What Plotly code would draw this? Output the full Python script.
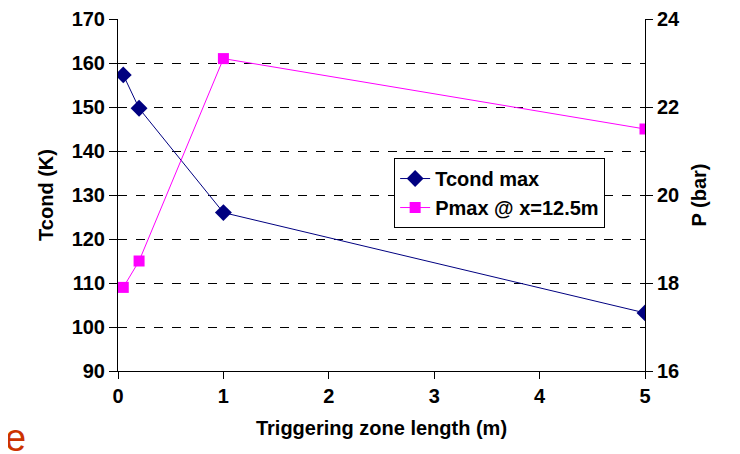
import plotly.graph_objects as go

zone_len = [0.05, 0.2, 1, 5]
tcond_max = [157.3, 149.7, 126.0, 103.2]
pmax = [17.9, 18.5, 23.1, 21.5]

x_ticks = [0, 1, 2, 3, 4, 5]
t_ticks = list(range(90, 171, 10))
p_ticks = [16, 18, 20, 22, 24]

font_fam = "Liberation Sans, Arial, sans-serif"

fig = go.Figure()
fig.add_trace(go.Scatter(
    x=zone_len, y=tcond_max, name="Tcond max",
    mode="lines+markers",
    line=dict(color="#000080", width=1),
    marker=dict(symbol="diamond", size=13, color="#000080"),
))
fig.add_trace(go.Scatter(
    x=zone_len, y=pmax, name="Pmax @ x=12.5m",
    mode="lines+markers", yaxis="y2",
    line=dict(color="#ff00ff", width=1),
    marker=dict(symbol="square", size=11, color="#ff00ff"),
))

tickfont = dict(family=font_fam, size=20, color="black", weight="bold")
titlefont = dict(family=font_fam, size=20, color="black", weight="bold")

# page body has an 8px margin, so shift the plot area up/left by 8px
fig.update_layout(
    width=740, height=454,
    margin=dict(l=110, r=103, t=11, b=91, autoexpand=False),
    plot_bgcolor="white", paper_bgcolor="white",
    font=dict(family=font_fam, color="black"),
    xaxis=dict(
        range=[0, 5], tickvals=x_ticks,
        showline=True, linecolor="black", linewidth=1,
        ticks="outside", ticklen=7, tickcolor="black",
        showgrid=False, zeroline=False, tickfont=tickfont,
        title=dict(text="Triggering zone length (m)", font=titlefont, standoff=14),
    ),
    yaxis=dict(
        range=[90, 170], tickvals=t_ticks,
        showline=True, linecolor="black", linewidth=1,
        ticks="outside", ticklen=8, tickcolor="black",
        showgrid=True, gridcolor="black", gridwidth=1, griddash="dash",
        zeroline=False, tickfont=tickfont,
        title=dict(text="Tcond (K)", font=titlefont, standoff=12),
    ),
    yaxis2=dict(
        range=[16, 24], tickvals=p_ticks,
        overlaying="y", side="right",
        showline=True, linecolor="black", linewidth=1,
        ticks="outside", ticklen=7, tickcolor="black",
        showgrid=False, zeroline=False, tickfont=tickfont,
        title=dict(text="P (bar)", font=titlefont, standoff=12),
    ),
    legend=dict(
        x=0.524, y=0.605, xanchor="left", yanchor="top",
        bordercolor="black", borderwidth=1, bgcolor="white",
        font=dict(family=font_fam, size=20, color="black", weight="bold"),
        tracegroupgap=2,
    ),
    showlegend=True,
)

fig.add_annotation(
    text="e", xref="paper", yref="paper", x=-0.218, y=-0.19,
    xanchor="left", yanchor="middle", showarrow=False,
    font=dict(family=font_fam, size=38, color="#cc3300"),
)

fig.write_html("out.html")
